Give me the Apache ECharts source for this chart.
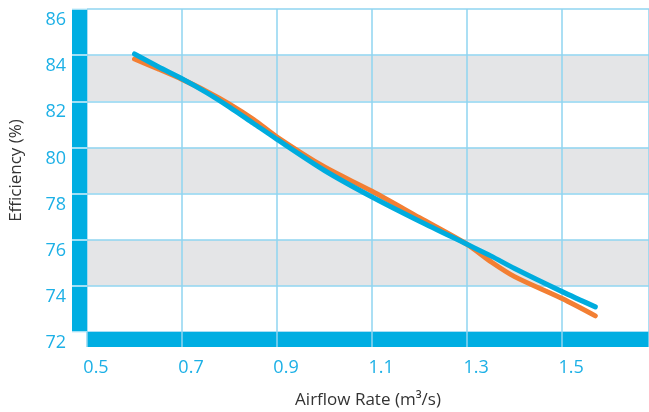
<!DOCTYPE html>
<html>
<head>
<meta charset="utf-8">
<script src="https://cdn.jsdelivr.net/npm/echarts@6/dist/echarts.min.js"></script>
<style>html,body{margin:0;padding:0;background:#fff;overflow:hidden}#c{position:absolute;left:0;top:0;width:649px;height:412px}</style>
</head>
<body>
<div id="c"></div>
<script>
var airflow = [0.6, 0.65, 0.7, 0.75, 0.8, 0.85, 0.9, 1.0, 1.1, 1.2, 1.3, 1.35, 1.4, 1.5, 1.57];
var effOrange = [83.83, 83.4, 82.95, 82.45, 81.88, 81.22, 80.45, 79.15, 78.1, 76.95, 75.8, 75.05, 74.4, 73.45, 72.7];
var effBlue = [84.05, 83.5, 82.98, 82.4, 81.75, 81.05, 80.35, 79.0, 77.85, 76.8, 75.8, 75.3, 74.75, 73.75, 73.09];
var xTicks = [0.5, 0.7, 0.9, 1.1, 1.3, 1.5];
var yTicks = [72, 74, 76, 78, 80, 82, 84, 86];

var BAR = '#00aee2', GRID = '#8fd5f0', LBL = '#1cb0e6', FONT = 'Open Sans';
var xMin = 0.5, xMax = 1.683, xInt = 0.2, yMin = 72, yMax = 86, yInt = 2;

function pairs(xs, ys){ return xs.map(function(x,i){ return [x, ys[i]]; }); }

var chart = echarts.init(document.getElementById('c'));
chart.setOption({
  animation: false,
  grid: { left: 87, top: 9, right: 0, bottom: 80, containLabel: false, outerBoundsMode: 'none' },
  xAxis: [
    { type: 'value', min: xMin, max: xMax, interval: xInt, position: 'bottom', z: 0,
      axisLine: { show: false }, axisTick: { show: false },
      axisLabel: { color: LBL, fontFamily: FONT, fontSize: 18, margin: 27, padding: [0,0,0,18], showMaxLabel: false,
        formatter: function(v){ var s = v.toFixed(1); return xTicks.indexOf(+s) >= 0 ? s : ''; } },
      splitLine: { show: true, lineStyle: { color: GRID, width: 1.5 } },
      name: 'Airflow Rate (m³/s)', nameLocation: 'middle', nameGap: 60,
      nameTextStyle: { color: '#333', fontFamily: FONT, fontSize: 17 } },
    { type: 'value', min: xMin, max: xMax, interval: xInt, position: 'bottom', offset: 7.5, z: 1,
      axisLine: { show: true, lineStyle: { color: BAR, width: 15, cap: 'butt' } },
      axisTick: { show: false }, axisLabel: { show: false }, splitLine: { show: false } },
    { type: 'value', min: xMin, max: xMax, interval: xInt, position: 'bottom', z: 1.5,
      axisLine: { show: false },
      axisTick: { show: true, inside: false, length: 15, lineStyle: { color: GRID, width: 1.5 } },
      axisLabel: { show: false }, splitLine: { show: false } }
  ],
  yAxis: [
    { type: 'value', min: yMin, max: yMax, interval: yInt, position: 'left', z: 0,
      axisLine: { show: false }, axisTick: { show: false },
      axisLabel: { color: LBL, fontFamily: FONT, fontSize: 18, margin: 21, verticalAlign: 'top', lineHeight: 22,
        formatter: function(v){ return yTicks.indexOf(v) >= 0 ? String(v) : ''; } },
      splitLine: { show: true, lineStyle: { color: GRID, width: 1.5 } },
      splitArea: { show: true, areaStyle: { color: ['#ffffff', '#e4e5e7'] } },
      name: 'Efficiency (%)', nameLocation: 'middle', nameGap: 62,
      nameTextStyle: { color: '#333', fontFamily: FONT, fontSize: 17 } },
    { type: 'value', min: yMin, max: yMax, interval: yInt, position: 'left', offset: 7.5, z: 1,
      axisLine: { show: true, lineStyle: { color: BAR, width: 15, cap: 'butt' } },
      axisTick: { show: false }, axisLabel: { show: false }, splitLine: { show: false } },
    { type: 'value', min: yMin, max: yMax, interval: yInt, position: 'left', z: 1.5,
      axisLine: { show: false },
      axisTick: { show: true, inside: false, length: 15, lineStyle: { color: '#d8f1fb', width: 1.5 } },
      axisLabel: { show: false }, splitLine: { show: false } }
  ],
  series: [
    { type: 'line', name: 'Orange', xAxisIndex: 0, yAxisIndex: 0, z: 3, data: pairs(airflow, effOrange),
      smooth: 0.3, showSymbol: false, lineStyle: { color: '#f37f33', width: 5, cap: 'round' } },
    { type: 'line', name: 'Blue', xAxisIndex: 0, yAxisIndex: 0, z: 4, data: pairs(airflow, effBlue),
      smooth: 0.3, showSymbol: false, lineStyle: { color: '#00acde', width: 5, cap: 'round' } }
  ]
});
</script>
</body>
</html>
